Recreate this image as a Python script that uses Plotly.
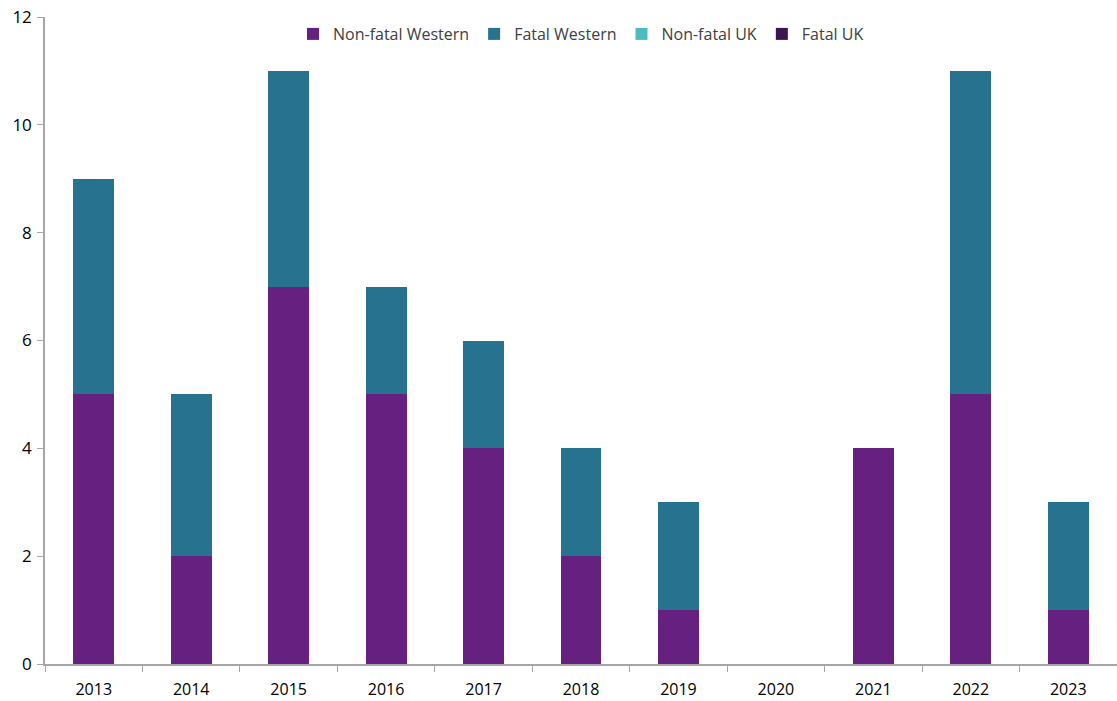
import plotly.graph_objects as go

years = ["2013", "2014", "2015", "2016", "2017", "2018", "2019", "2020", "2021", "2022", "2023"]
non_fatal_western = [5, 2, 7, 5, 4, 2, 1, 0, 4, 5, 1]
fatal_western = [4, 3, 4, 2, 2, 2, 2, 0, 0, 6, 2]
non_fatal_uk = [0, 0, 0, 0, 0, 0, 0, 0, 0, 0, 0]
fatal_uk = [0, 0, 0, 0, 0, 0, 0, 0, 0, 0, 0]

series = [
    ("Non-fatal Western", non_fatal_western, "#66207f"),
    ("Fatal Western", fatal_western, "#26728f"),
    ("Non-fatal UK", non_fatal_uk, "#4bbcc0"),
    ("Fatal UK", fatal_uk, "#3b1650"),
]

fig = go.Figure()
for name, vals, color in series:
    fig.add_trace(go.Bar(x=years, y=vals, name=name, marker=dict(color=color, line=dict(width=0))))

fig.update_layout(
    barmode="stack",
    bargap=0.58,
    width=1117,
    height=701,
    margin=dict(l=45, r=0, t=17, b=37),
    paper_bgcolor="white",
    plot_bgcolor="white",
    font=dict(family="Open Sans, Liberation Sans, sans-serif", size=16, color="#000000"),
    legend=dict(
        orientation="h",
        x=0.5,
        xanchor="center",
        y=1.0,
        yanchor="top",
        font=dict(size=16, color="#404040"),
        itemwidth=30,
        traceorder="normal",
    ),
    xaxis=dict(
        type="category",
        showline=True,
        linecolor="#a6a6a6",
        linewidth=1.5,
        ticks="outside",
        tickson="boundaries",
        ticklen=6,
        tickcolor="#a6a6a6",
        showgrid=False,
        ticklabelstandoff=10,
        tickfont=dict(size=16, color="#000000"),
    ),
    yaxis=dict(
        range=[0, 12],
        dtick=2,
        showline=True,
        linecolor="#a6a6a6",
        linewidth=1.5,
        ticks="outside",
        ticklen=6,
        tickcolor="#a6a6a6",
        showgrid=False,
        zeroline=False,
        ticklabelstandoff=2,
        tickfont=dict(size=17, color="#000000"),
    ),
)

fig.write_html("out.html")
